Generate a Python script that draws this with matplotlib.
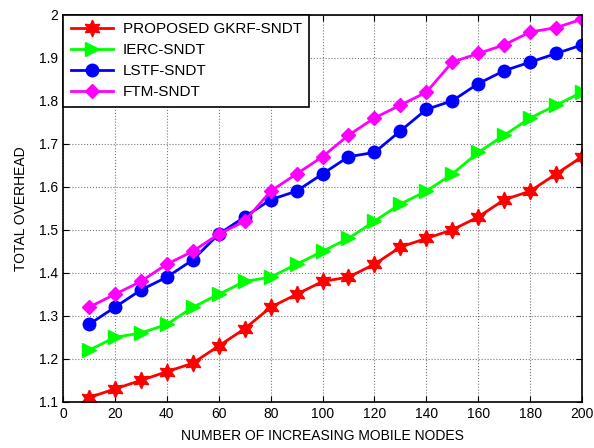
import matplotlib
matplotlib.use("Agg")
import matplotlib.pyplot as plt

plt.rcParams['font.family'] = ['Liberation Sans', 'DejaVu Sans']

# number of mobile nodes
nodes = [10, 20, 30, 40, 50, 60, 70, 80, 90, 100,
         110, 120, 130, 140, 150, 160, 170, 180, 190, 200]

gkrf = [1.11, 1.13, 1.15, 1.17, 1.19, 1.23, 1.27, 1.32, 1.35, 1.38,
        1.39, 1.42, 1.46, 1.48, 1.50, 1.53, 1.57, 1.59, 1.63, 1.67]
ierc = [1.22, 1.25, 1.26, 1.28, 1.32, 1.35, 1.38, 1.39, 1.42, 1.45,
        1.48, 1.52, 1.56, 1.59, 1.63, 1.68, 1.72, 1.76, 1.79, 1.82]
lstf = [1.28, 1.32, 1.36, 1.39, 1.43, 1.49, 1.53, 1.57, 1.59, 1.63,
        1.67, 1.68, 1.73, 1.78, 1.80, 1.84, 1.87, 1.89, 1.91, 1.93]
ftm = [1.32, 1.35, 1.38, 1.42, 1.45, 1.49, 1.52, 1.59, 1.63, 1.67,
       1.72, 1.76, 1.79, 1.82, 1.89, 1.91, 1.93, 1.96, 1.97, 1.99]

labels = ['PROPOSED GKRF-SNDT', 'IERC-SNDT', 'LSTF-SNDT', 'FTM-SNDT']

fig = plt.figure(figsize=(5.94, 4.48), dpi=100)
ax = fig.add_axes([0.106, 0.103, 0.874, 0.864])

ax.plot(nodes, gkrf, color='red', lw=2, marker=(6, 1, 0), ms=12, label=labels[0])
ax.plot(nodes, ierc, color='#00ff00', lw=2, marker='>', ms=10, label=labels[1])
ax.plot(nodes, lstf, color='blue', lw=2, marker='o', ms=9, label=labels[2])
ax.plot(nodes, ftm, color='magenta', lw=2, marker='D', ms=7.5, label=labels[3])

ax.set_xlim(0, 200)
ax.set_ylim(1.1, 2.0)
ax.set_xticks(range(0, 201, 20))
ax.set_yticks([1.1, 1.2, 1.3, 1.4, 1.5, 1.6, 1.7, 1.8, 1.9, 2.0])
ax.set_yticklabels(['1.1', '1.2', '1.3', '1.4', '1.5', '1.6', '1.7', '1.8', '1.9', '2'])
ax.tick_params(direction='in', top=True, right=True, labelsize=10, length=4)
ax.grid(True, linestyle=':', color='#777777', lw=0.8)
for s in ax.spines.values():
    s.set_linewidth(1.2)

ax.set_xlabel('NUMBER OF INCREASING MOBILE NODES', fontsize=10, labelpad=6)
ax.set_ylabel('TOTAL OVERHEAD', fontsize=10, labelpad=8)

leg = ax.legend(loc='upper left', fontsize=11, fancybox=False, edgecolor='black',
                borderaxespad=0, handlelength=2.8, labelspacing=0.45,
                borderpad=0.5, handletextpad=0.6, framealpha=1)
leg.get_frame().set_linewidth(1.2)

fig.savefig('out.png', dpi=100, facecolor='white')
